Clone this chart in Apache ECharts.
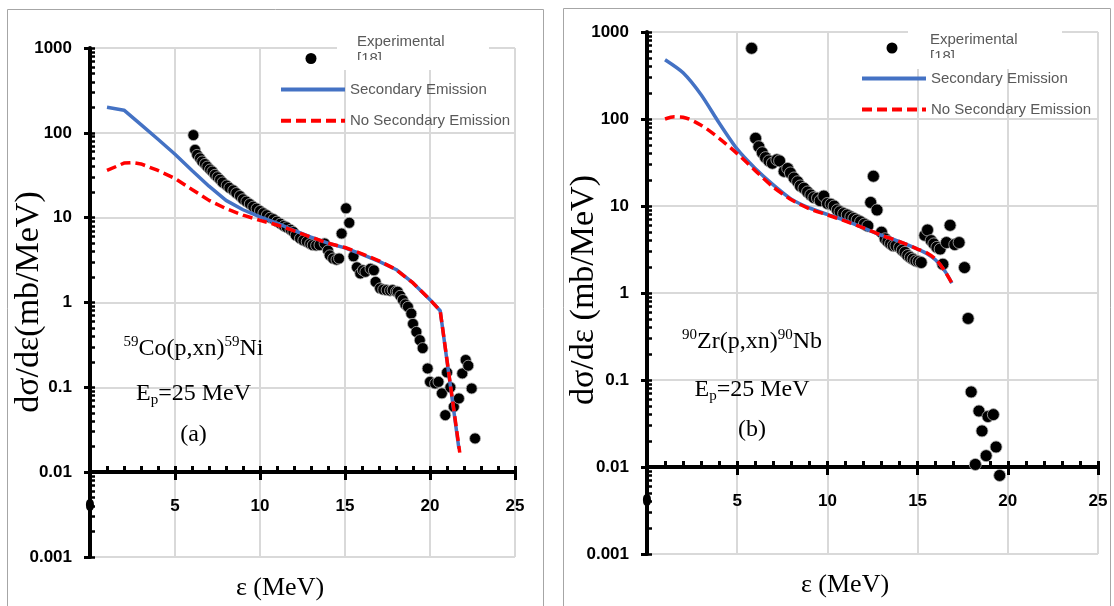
<!DOCTYPE html>
<html><head><meta charset="utf-8">
<script src="https://cdn.jsdelivr.net/npm/echarts@6/dist/echarts.min.js"></script>
<style>html,body{margin:0;padding:0;background:#fff}#c{width:1114px;height:606px}</style>
</head><body><div id="c"></div>
<script>
// ---------- data ----------
const xTicks = [0, 5, 10, 15, 20, 25];
const yTickLabels = ['0.001', '0.01', '0.1', '1', '10', '100', '1000'];
const yMajorTicks = [0.001, 0.01, 0.1, 1, 10, 100, 1000];
const yMinorMultipliers = [2, 3, 4, 5, 6, 7, 8, 9];

// panel (a) 59Co(p,xn)59Ni
const coSecE = [1, 2, 3, 4, 5, 6, 7, 8, 9, 10, 11, 12, 13, 14, 15, 16, 17, 18, 19, 20, 20.6, 21.7];
const coSecV = [200, 185, 125, 84, 56, 36, 23.5, 16, 12.4, 10.2, 8.6, 7.1, 5.9, 5.0, 4.4, 3.7, 3.05, 2.45, 1.7, 1.08, 0.8, 0.019];
const coNoSecE = [1, 2, 2.5, 3, 4, 5, 6, 7, 8, 9, 10, 11, 12, 13, 14, 15, 16, 17, 18, 19, 20, 20.6, 21.75];
const coNoSecV = [36, 44, 44.5, 43, 36, 29, 21.5, 16, 12.8, 10.7, 9.3, 8.2, 7.0, 5.9, 5.0, 4.45, 3.75, 3.1, 2.45, 1.7, 1.08, 0.8, 0.017];
const coExpE = [6.08, 6.18, 6.3, 6.47, 6.6, 6.76, 6.9, 7.06, 7.2, 7.35, 7.5, 7.65, 7.8, 8.04, 8.2, 8.43, 8.6, 8.82, 9.0, 9.2, 9.4, 9.6, 9.8, 10.0, 10.2, 10.4, 10.6, 10.8, 11.0, 11.2, 11.4, 11.57, 11.8, 11.96, 12.1, 12.35, 12.55, 12.75, 12.95, 13.1, 13.3, 13.5, 13.8, 14.0, 14.1, 14.3, 14.5, 14.65, 14.8, 15.06, 15.25, 15.5, 15.7, 15.9, 16.05, 16.2, 16.5, 16.7, 16.8, 17.06, 17.25, 17.45, 17.65, 17.8, 18.0, 18.1, 18.25, 18.4, 18.55, 18.7, 18.9, 19.0, 19.2, 19.4, 19.57, 19.86, 20.0, 20.3, 20.5, 20.7, 20.9, 21.0, 21.2, 21.4, 21.7, 21.9, 22.1, 22.25, 22.45, 22.65];
const coExpV = [94, 63, 55, 50, 46, 43, 40, 37, 35, 32, 30, 28, 26, 24, 22.5, 21, 19.5, 18, 16.5, 15.5, 14.5, 13.5, 12.8, 12.0, 11.3, 10.7, 10.0, 9.6, 9.0, 8.5, 8.0, 7.7, 7.2, 6.8, 6.2, 5.7, 5.4, 5.2, 4.9, 4.75, 4.7, 4.75, 4.97, 4.1, 3.6, 3.3, 3.2, 3.3, 6.5, 12.9, 8.7, 3.5, 2.6, 2.2, 2.4, 2.3, 2.5, 2.4, 1.75, 1.47, 1.42, 1.4, 1.38, 1.4, 1.35, 1.34, 1.2, 1.07, 0.95, 0.89, 0.74, 0.56, 0.45, 0.36, 0.29, 0.167, 0.116, 0.111, 0.116, 0.085, 0.047, 0.15, 0.10, 0.059, 0.074, 0.146, 0.21, 0.18, 0.097, 0.025];

// panel (b) 90Zr(p,xn)90Nb
const zrSecE = [1, 2, 3, 4, 5, 6, 7, 8, 9, 10, 11, 12, 13, 14, 15, 15.5, 16, 16.5, 16.9];
const zrSecV = [480, 340, 190, 90, 45, 27, 17.5, 12, 9.5, 8, 6.8, 5.6, 4.6, 3.9, 3.2, 2.85, 2.4, 1.8, 1.3];
const zrNoSecE = [1, 1.5, 2, 3, 4, 5, 6, 7, 8, 9, 10, 11, 12, 13, 14, 15, 15.5, 16, 16.5, 16.9];
const zrNoSecV = [100, 106, 105, 85, 60, 40, 25.5, 16.5, 11.8, 9.3, 7.9, 6.7, 5.6, 4.6, 3.9, 3.2, 2.9, 2.45, 1.8, 1.3];
const zrExpE = [5.8, 6.02, 6.2, 6.39, 6.57, 6.76, 6.95, 7.2, 7.35, 7.6, 7.8, 7.95, 8.15, 8.35, 8.5, 8.7, 8.9, 9.08, 9.25, 9.45, 9.6, 9.8, 10.0, 10.2, 10.37, 10.55, 10.7, 10.9, 11.1, 11.3, 11.47, 11.65, 11.84, 12.05, 12.24, 12.4, 12.55, 12.75, 13.0, 13.2, 13.35, 13.5, 13.65, 13.8, 14.0, 14.15, 14.3, 14.45, 14.6, 14.75, 14.9, 15.05, 15.2, 15.4, 15.55, 15.75, 15.9, 16.07, 16.25, 16.4, 16.6, 16.8, 17.06, 17.3, 17.6, 17.8, 17.97, 18.2, 18.4, 18.57, 18.8, 18.9, 19.2, 19.35, 19.55];
const zrExpV = [650, 60, 48, 41, 36, 33, 31, 34, 33, 25, 27, 24, 21, 19, 17, 16, 14.5, 13.4, 12.5, 12.3, 11.5, 13, 10.7, 10.5, 10, 9, 8.6, 8.2, 7.9, 7.5, 7.2, 6.9, 6.6, 6.2, 5.9, 11, 22, 9, 5.0, 4.2, 3.9, 3.67, 3.5, 3.5, 3.35, 3.1, 2.93, 2.7, 2.56, 2.45, 2.34, 2.3, 2.24, 4.6, 5.3, 4.0, 3.67, 3.35, 3.2, 2.14, 3.8, 6.0, 3.6, 3.8, 1.96, 0.51, 0.073, 0.0107, 0.044, 0.026, 0.0135, 0.038, 0.040, 0.017, 0.008];

const seriesNames = ['Experimental [18]', 'Secondary Emission', 'No Secondary Emission'];

// minor + major tick positions for the log axis decoration
const yAllTicks = [];
yMajorTicks.forEach(function (d, i) {
  yAllTicks.push(d);
  if (i < yMajorTicks.length - 1) yMinorMultipliers.forEach(function (m) { yAllTicks.push(+(m * d).toPrecision(3)); });
});

// ---------- layout ----------
const W = 1114, H = 606;
const panels = [
  {
    gl: 90, gr: 515, gt: 48, gb: 557, axisY: 472, sym: 11, smooth: false,
    sec: [coSecE, coSecV], nosec: [coNoSecE, coNoSecV], exp: [coExpE, coExpV],
    border: [7.5, 9.5, 536, 640],
    expLeg: { left: 305.5, top: 33, padLeft: 35.5, text: 'Experimental\n[18]\n ' },
    lineLeg: { left: 279, top: 80.4, gap: 13.4 },
    white: [337, 26, 152, 44], clip: [337, 60, 152, 10],
    ann: { x: 193.5, y1: 349, y2: 394, y3: 435, t1: '{s|59}{m|Co(p,xn)}{s|59}{m|Ni}', t3: '(a)' },
    ytitle: { x: 29, y: 302, t: 'dσ/dε(mb/MeV)' },
    xtitle: { x: 280, y: 588 }
  },
  {
    gl: 647, gr: 1098, gt: 32, gb: 554, axisY: 467, sym: 12, smooth: 0.25,
    sec: [zrSecE, zrSecV], nosec: [zrNoSecE, zrNoSecV], exp: [zrExpE, zrExpV],
    border: [563.5, 8.5, 547, 640],
    expLeg: { left: 886.5, top: 31, padLeft: 27.5, text: 'Experimental\n[18]' },
    lineLeg: { left: 860, top: 69.5, gap: 13 },
    white: [908, 22, 154, 47], clip: [908, 58, 154, 11],
    ann: { x: 752, y1: 342, y2: 390, y3: 430, t1: '{s|90}{m|Zr(p,xn)}{s|90}{m|Nb}', t3: '(b)' },
    ytitle: { x: 584, y: 290, t: 'dσ/dε (mb/MeV)' },
    xtitle: { x: 845, y: 585 }
  }
];

const SERIF = 'Liberation Serif';
const SANS = 'Liberation Sans';
const grid = [], xAxis = [], yAxis = [], series = [], legend = [], graphic = [];
const pairs = (xs, ys) => xs.map((x, i) => [x, ys[i]]);
const yFmt = v => yTickLabels[Math.round(Math.log10(v)) + 3] || '';
const tickLabelStyle = { color: '#000', fontFamily: SANS, fontWeight: 'bold', fontSize: 17 };

panels.forEach((p, k) => {
  const i0 = grid.length;
  const lr = { left: p.gl, right: W - p.gr };
  grid.push(Object.assign({ top: p.gt, bottom: H - p.gb }, lr));      // A: data, gridlines, y axis
  grid.push(Object.assign({ top: p.gt, bottom: H - p.axisY }, lr));   // B: x axis at 0.01
  grid.push(Object.assign({ top: p.gt, bottom: H - p.axisY }, lr));   // C: x minor ticks
  grid.push(Object.assign({ top: p.gt, bottom: H - p.gb }, lr));      // D: y minor ticks

  const xmin = xTicks[0], xmax = xTicks[xTicks.length - 1], xint = xTicks[1] - xTicks[0];
  xAxis.push({
    gridIndex: i0, type: 'value', min: xmin, max: xmax, interval: xint,
    axisLine: { show: false }, axisTick: { show: false }, axisLabel: { show: false },
    splitLine: { show: true, lineStyle: { color: '#d9d9d9', width: 2 } }
  });
  xAxis.push({
    gridIndex: i0 + 1, type: 'value', min: xmin, max: xmax, interval: xint,
    axisLine: { show: true, onZero: false, lineStyle: { color: '#000', width: 4 } },
    axisTick: { show: true, inside: false, length: 8, lineStyle: { color: '#000', width: 3 } },
    axisLabel: Object.assign({ show: true, margin: 26, formatter: v => String(v) }, tickLabelStyle),
    splitLine: { show: false }
  });
  xAxis.push({
    gridIndex: i0 + 2, type: 'value', min: xmin, max: xmax, interval: 1,
    axisLine: { show: false, onZero: false },
    axisTick: { show: true, inside: true, length: 6, lineStyle: { color: '#000', width: 3 } },
    axisLabel: { show: false }, splitLine: { show: false }
  });
  xAxis.push({ gridIndex: i0 + 3, type: 'value', min: xmin, max: xmax, show: false });

  yAxis.push({
    gridIndex: i0, type: 'log', logBase: 10, min: 0.001, max: 1000,
    axisLine: { show: true, lineStyle: { color: '#000', width: 4 } },
    axisTick: { show: true, inside: false, length: 6, lineStyle: { color: '#000', width: 3 } },
    axisLabel: Object.assign({ show: true, margin: 18, formatter: yFmt }, tickLabelStyle),
    splitLine: { show: true, lineStyle: { color: '#d9d9d9', width: 2 } }
  });
  yAxis.push({ gridIndex: i0 + 1, type: 'log', min: 0.01, max: 1000, show: false });
  yAxis.push({ gridIndex: i0 + 2, type: 'log', min: 0.01, max: 1000, show: false });
  yAxis.push({
    gridIndex: i0 + 3, type: 'log', logBase: 10, min: 0.001, max: 1000,
    axisLine: { show: false },
    axisTick: { show: true, inside: true, length: 5, customValues: yAllTicks, lineStyle: { color: '#000', width: 2.5 } },
    axisLabel: { show: false }, splitLine: { show: false }
  });

  series.push({
    name: seriesNames[0], type: 'scatter', xAxisIndex: i0, yAxisIndex: i0,
    data: pairs(p.exp[0], p.exp[1]), symbol: 'circle', symbolSize: p.sym,
    itemStyle: { color: '#000', opacity: 1, borderColor: '#b5b5b5', borderWidth: 0.8 }, z: 2
  });
  series.push({
    name: seriesNames[1], type: 'line', xAxisIndex: i0, yAxisIndex: i0,
    data: pairs(p.sec[0], p.sec[1]), symbol: 'none', smooth: p.smooth,
    lineStyle: { color: '#4472C4', width: 3.5 }, itemStyle: { color: '#4472C4' }, z: 3
  });
  series.push({
    name: seriesNames[2], type: 'line', xAxisIndex: i0, yAxisIndex: i0,
    data: pairs(p.nosec[0], p.nosec[1]), symbol: 'none', smooth: p.smooth,
    lineStyle: { color: '#FF0000', width: 3.5, type: [10, 5] }, itemStyle: { color: '#FF0000' }, z: 4
  });

  legend.push({
    data: [{ name: seriesNames[0], icon: 'circle' }], selectedMode: false,
    left: p.expLeg.left, top: p.expLeg.top, padding: 0, itemWidth: 11, itemHeight: 11,
    formatter: () => p.expLeg.text,
    itemStyle: { color: '#000', borderWidth: 0, opacity: 1 },
    textStyle: { color: '#595959', fontFamily: SANS, fontSize: 15, lineHeight: 17, padding: [0, 0, 0, p.expLeg.padLeft] },
    z: 6
  });
  legend.push({
    data: [seriesNames[1], seriesNames[2]], selectedMode: false, orient: 'vertical',
    left: p.lineLeg.left, top: p.lineLeg.top, padding: 0, itemGap: p.lineLeg.gap,
    itemWidth: 64, itemHeight: 14,
    itemStyle: { opacity: 0 },
    lineStyle: { width: 4 },
    textStyle: { color: '#595959', fontFamily: SANS, fontSize: 15, lineHeight: 18 },
    z: 6
  });

  graphic.push({ type: 'rect', shape: { x: p.border[0], y: p.border[1], width: p.border[2], height: p.border[3] },
    style: { fill: 'none', stroke: '#a6a6a6', lineWidth: 1 }, z: 1, silent: true });
  graphic.push({ type: 'rect', shape: { x: p.white[0], y: p.white[1], width: p.white[2], height: p.white[3] },
    style: { fill: '#fff' }, z: 5, silent: true });
  graphic.push({ type: 'rect', shape: { x: p.clip[0], y: p.clip[1], width: p.clip[2], height: p.clip[3] },
    style: { fill: '#fff' }, z: 20, silent: true });

  const rich = {
    m: { fontFamily: SERIF, fontSize: 24, lineHeight: 28, fill: '#000' },
    s: { fontFamily: SERIF, fontSize: 15, lineHeight: 15, verticalAlign: 'top', fill: '#000' },
    b: { fontFamily: SERIF, fontSize: 15, lineHeight: 15, verticalAlign: 'bottom', fill: '#000' }
  };
  graphic.push({ type: 'text', x: p.ann.x, y: p.ann.y1, z: 7, silent: true,
    style: { text: p.ann.t1, rich, align: 'center', verticalAlign: 'middle' } });
  graphic.push({ type: 'text', x: p.ann.x, y: p.ann.y2, z: 7, silent: true,
    style: { text: '{m|E}{b|p}{m|=25 MeV}', rich, align: 'center', verticalAlign: 'middle' } });
  graphic.push({ type: 'text', x: p.ann.x, y: p.ann.y3, z: 7, silent: true,
    style: { text: p.ann.t3, fontFamily: SERIF, fontSize: 24, fill: '#000', align: 'center', verticalAlign: 'middle' } });
  graphic.push({ type: 'text', x: p.ytitle.x, y: p.ytitle.y, rotation: Math.PI / 2, z: 7, silent: true,
    style: { text: p.ytitle.t, fontFamily: SERIF, fontSize: 34, fill: '#000', align: 'center', verticalAlign: 'middle' } });
  graphic.push({ type: 'text', x: p.xtitle.x, y: p.xtitle.y, z: 7, silent: true,
    style: { text: 'ε (MeV)', fontFamily: SERIF, fontSize: 26, fill: '#000', align: 'center', verticalAlign: 'middle' } });
});

const chart = echarts.init(document.getElementById('c'), null, { renderer: 'canvas' });
chart.setOption({
  backgroundColor: '#fff',
  animation: false,
  grid, xAxis, yAxis, series, legend,
  graphic: { elements: graphic }
});
</script>
</body></html>
